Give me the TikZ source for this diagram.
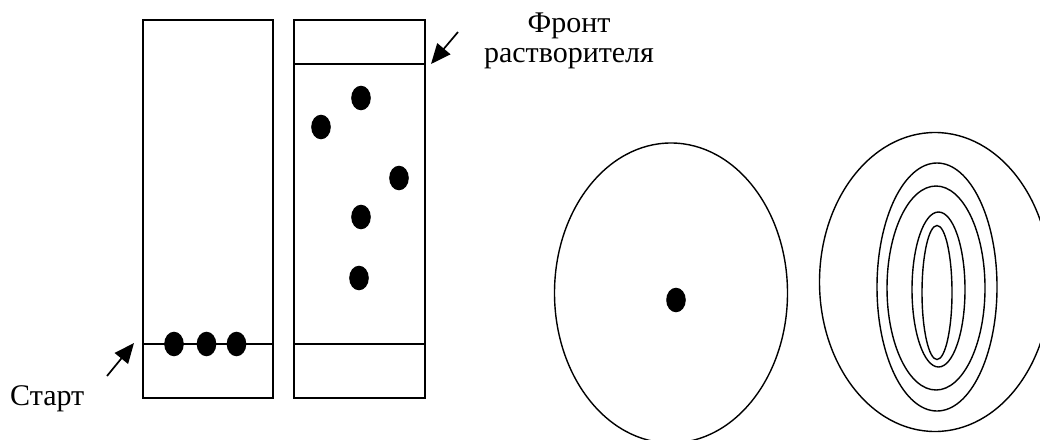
\documentclass[tikz,border=0pt]{standalone}
\usepackage{fontspec}
\setmainfont{Liberation Serif}
\usetikzlibrary{arrows.meta}
\begin{document}
\begin{tikzpicture}[x=1pt,y=-1pt,
  plate/.style={draw,line width=1.6pt},
  spot/.style={fill=black,x radius=9.8,y radius=12.3},
  ring/.style={draw,line width=1.4pt},
  pointer/.style={line width=1.7pt,-{Triangle[length=20pt,width=17pt]}},
  caption/.style={font=\fontsize{30}{30}\selectfont,inner sep=0pt}]
\useasboundingbox (0,0) rectangle (1040,439);
\begin{scope}
\clip (0,0) rectangle (1040,439);

% two chromatography strips
\draw[plate] (143,20) rectangle (273,398);
\draw[plate] (294,20) rectangle (425,398);
\draw[plate] (143,344) -- (273,344);
\draw[plate] (294,64) -- (425,64);
\draw[plate] (294,344) -- (425,344);

% spots on the start line
\fill[spot] (174,344) ellipse [];
\fill[spot] (206.5,344) ellipse [];
\fill[spot] (236.5,344) ellipse [];

% separated spots
\fill[spot] (361,98) ellipse [];
\fill[spot] (321,127) ellipse [];
\fill[spot] (399,178) ellipse [];
\fill[spot] (361,217) ellipse [];
\fill[spot] (359,278) ellipse [];

% circular chromatograms
\draw[ring] (671,293) ellipse [x radius=116.5,y radius=150];
\fill[spot] (676,300) ellipse [];

\draw[ring] (935,282) ellipse [x radius=115.5,y radius=149.5];
\draw[ring] (937,287) ellipse [x radius=60,y radius=124];
\draw[ring] (936,288) ellipse [x radius=49,y radius=102];
\draw[ring] (938.5,289.5) ellipse [x radius=26.5,y radius=77.5];
\draw[ring] (937,292.5) ellipse [x radius=15,y radius=67];
\end{scope}

% labels and pointers
\node[caption,anchor=base west] (start) at (10,405) {Старт};
\node[caption,align=center,anchor=base] (front) at (569,62) {Фронт\\растворителя};

\coordinate (startTail) at (107,376);
\coordinate (startTip) at (134,343);
\coordinate (frontTail) at (458,32);
\coordinate (frontTip) at (431,64);
\draw[pointer] (startTail) -- (startTip);
\draw[pointer] (frontTail) -- (frontTip);
\end{tikzpicture}
\end{document}
